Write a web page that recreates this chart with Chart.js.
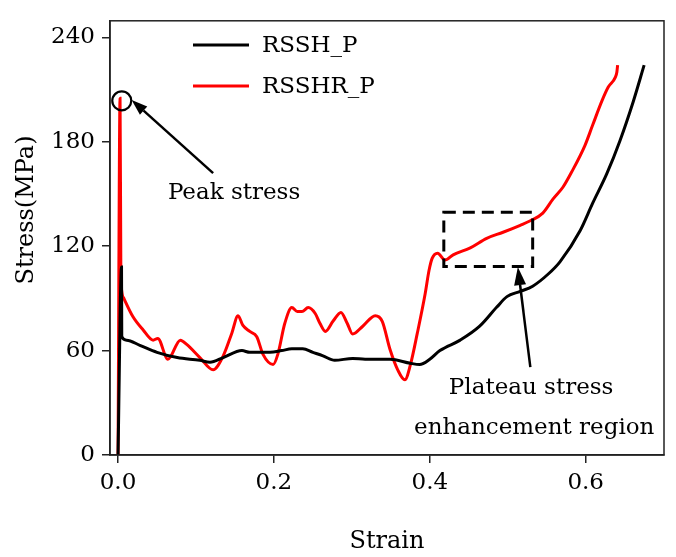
<!DOCTYPE html>
<html>
<head>
<meta charset="utf-8">
<script src="https://cdn.jsdelivr.net/npm/chart.js@4.4.1/dist/chart.umd.min.js"></script>
<style>
  html, body { margin: 0; padding: 0; background: #fff; }
  canvas { display: block; }
</style>
</head>
<body>
<canvas id="stressChart" width="676" height="557"></canvas>
<script>
// ---------------- DATA ----------------
const seriesNames = ["RSSH_P", "RSSHR_P"];

const rsshStrain = [0, 0.0045, 0.0048, 0.011, 0.028, 0.050, 0.076, 0.105, 0.118, 0.135,
  0.159, 0.169, 0.195, 0.210, 0.223, 0.237, 0.250, 0.263, 0.278, 0.301,
  0.317, 0.349, 0.375, 0.387, 0.400, 0.413, 0.439, 0.464, 0.486, 0.499,
  0.516, 0.532, 0.552, 0.567, 0.593, 0.609, 0.627, 0.644, 0.661, 0.675];
const rsshStress = [0, 108, 68, 66, 63, 59, 56, 54.4, 53.3, 56,
  60, 59, 59, 60, 61, 61, 59, 57, 54.4, 55.5,
  55, 55, 52.7, 52, 55, 60, 66, 74, 85, 91,
  94, 97, 104, 111, 129, 144.7, 161.5, 180.6, 203, 224];

const rsshrStrain = [0, 0.0026, 0.0036, 0.0048, 0.0075, 0.019, 0.032, 0.045, 0.051, 0.064,
  0.080, 0.0885, 0.105, 0.122, 0.135, 0.146, 0.154, 0.160, 0.169, 0.178,
  0.186, 0.199, 0.205, 0.214, 0.223, 0.230, 0.236, 0.244, 0.253, 0.259,
  0.266, 0.276, 0.286, 0.294, 0.301, 0.314, 0.330, 0.339, 0.349, 0.359,
  0.368, 0.375, 0.384, 0.394, 0.399, 0.403, 0.410, 0.4195, 0.430, 0.452,
  0.473, 0.494, 0.516, 0.529, 0.545, 0.558, 0.571, 0.582, 0.599, 0.609,
  0.621, 0.629, 0.638, 0.640, 0.641];
const rsshrStress = [0, 205, 110, 94, 90, 79.6, 72, 66, 67, 55,
  66, 63.4, 56, 49, 57, 70, 80, 74.6, 71, 68,
  57.8, 52, 57.8, 75.7, 84.7, 82.4, 82.4, 84.7, 81.3, 75.7,
  71, 77, 81.9, 75.7, 69.5, 74, 80, 76.8, 60.6, 48.8,
  43.2, 51.6, 70, 92.5, 106, 113, 116, 112, 115, 119,
  124.5, 128, 132, 134.6, 139, 147, 154, 162.6, 177.8, 189.6,
  203.6, 211.4, 217, 220, 224];

const xTicks = [0, 0.2, 0.4, 0.6];
const yTicks = [0, 60, 120, 180, 240];
const xTitle = "Strain";
const yTitle = "Stress(MPa)";

const FONT = "'DejaVu Serif', serif";

function toPoints(xs, ys) {
  return xs.map((x, i) => ({ x, y: ys[i] }));
}

// ---------------- ANNOTATIONS / FRAME / LEGEND ----------------
function arrow(ctx, x1, y1, x2, y2, headLen, headW) {
  const ang = Math.atan2(y2 - y1, x2 - x1);
  const bx = x2 - headLen * Math.cos(ang);
  const by = y2 - headLen * Math.sin(ang);
  ctx.beginPath();
  ctx.moveTo(x1, y1);
  ctx.lineTo(bx, by);
  ctx.stroke();
  ctx.beginPath();
  ctx.moveTo(x2, y2);
  ctx.lineTo(bx + headW / 2 * Math.sin(ang), by - headW / 2 * Math.cos(ang));
  ctx.lineTo(bx - headW / 2 * Math.sin(ang), by + headW / 2 * Math.cos(ang));
  ctx.closePath();
  ctx.fill();
}

const decor = {
  id: "decor",
  afterDatasetsDraw(chart) {
    const { ctx, chartArea: a, scales: { x, y } } = chart;
    ctx.save();

    // frame
    ctx.strokeStyle = "#222";
    ctx.lineWidth = 1.5;
    ctx.strokeRect(a.left, a.top, a.right - a.left, a.bottom - a.top);

    // legend
    ctx.lineWidth = 3;
    ctx.font = "23px " + FONT;
    ctx.textBaseline = "middle";
    ctx.fillStyle = "#000";
    chart.data.datasets.forEach((ds, i) => {
      const ly = 45 + i * 41;
      ctx.strokeStyle = ds.borderColor;
      ctx.beginPath();
      ctx.moveTo(193, ly);
      ctx.lineTo(249, ly);
      ctx.stroke();
      ctx.fillText(ds.label, 262, ly + 1);
    });

    ctx.strokeStyle = "#000";
    ctx.fillStyle = "#000";

    // peak circle + arrow
    const cx = x.getPixelForValue(0.0048), cy = y.getPixelForValue(203.5);
    ctx.lineWidth = 2.2;
    ctx.beginPath();
    ctx.arc(cx, cy, 9.5, 0, Math.PI * 2);
    ctx.stroke();
    ctx.lineWidth = 2.5;
    arrow(ctx, x.getPixelForValue(0.122), y.getPixelForValue(162),
      x.getPixelForValue(0.0175), y.getPixelForValue(204), 16, 11);

    ctx.textBaseline = "alphabetic";
    ctx.textAlign = "left";
    ctx.fillText("Peak stress", x.getPixelForValue(0.064), y.getPixelForValue(147));

    // dashed box
    ctx.lineWidth = 3;
    ctx.setLineDash([12, 7]);
    const bx1 = x.getPixelForValue(0.418), bx2 = x.getPixelForValue(0.532);
    const by1 = y.getPixelForValue(139.5), by2 = y.getPixelForValue(108.3);
    ctx.strokeRect(bx1, by1, bx2 - bx1, by2 - by1);
    ctx.setLineDash([]);

    // plateau arrow
    ctx.lineWidth = 2.5;
    arrow(ctx, x.getPixelForValue(0.529), y.getPixelForValue(50.5),
      x.getPixelForValue(0.513), y.getPixelForValue(108), 18, 12);

    ctx.textAlign = "center";
    ctx.fillText("Plateau stress", x.getPixelForValue(0.530), y.getPixelForValue(35));
    ctx.fillText("enhancement region", x.getPixelForValue(0.534), y.getPixelForValue(12.3));

    // axis titles
    ctx.font = "24px " + FONT;
    ctx.fillText(xTitle, (a.left + a.right) / 2, 548);
    ctx.save();
    ctx.translate(33, 210);
    ctx.rotate(-Math.PI / 2);
    ctx.fillText(yTitle, 0, 0);
    ctx.restore();

    ctx.restore();
  }
};

// ---------------- CHART ----------------
new Chart(document.getElementById("stressChart"), {
  type: "scatter",
  data: {
    datasets: [
      {
        label: seriesNames[0],
        data: toPoints(rsshStrain, rsshStress),
        borderColor: "#000000",
        backgroundColor: "#000000",
        borderWidth: 3,
        showLine: true,
        pointRadius: 0,
        cubicInterpolationMode: "monotone"
      },
      {
        label: seriesNames[1],
        data: toPoints(rsshrStrain, rsshrStress),
        borderColor: "#ff0000",
        backgroundColor: "#ff0000",
        borderWidth: 3,
        showLine: true,
        pointRadius: 0,
        cubicInterpolationMode: "monotone"
      }
    ]
  },
  options: {
    responsive: false,
    devicePixelRatio: 1,
    animation: false,
    layout: { padding: { top: 10, right: 12, left: 0, bottom: 0 } },
    plugins: {
      legend: { display: false },
      tooltip: { enabled: false }
    },
    scales: {
      x: {
        type: "linear",
        min: -0.0103,
        max: 0.7005,
        afterBuildTicks: s => { s.ticks = xTicks.map(v => ({ value: v })); },
        afterFit: s => { s.height = 102; },
        grid: { drawOnChartArea: false, drawTicks: true, tickLength: 8, color: "#222", lineWidth: 1.5 },
        border: { display: true, color: "#222", width: 1.5 },
        ticks: {
          color: "#000",
          padding: 6,
          font: { family: FONT, size: 23 },
          callback: v => v.toFixed(1)
        }
      },
      y: {
        type: "linear",
        min: 0,
        max: 249.5,
        afterBuildTicks: s => { s.ticks = yTicks.map(v => ({ value: v })); },
        afterFit: s => { s.width = 110; },
        grid: { drawOnChartArea: false, drawTicks: true, tickLength: 8, color: "#222", lineWidth: 1.5 },
        border: { display: true, color: "#222", width: 1.5 },
        ticks: {
          color: "#000",
          padding: 7,
          font: { family: FONT, size: 23 },
          callback: v => String(v)
        }
      }
    }
  },
  plugins: [decor]
});
</script>
</body>
</html>
